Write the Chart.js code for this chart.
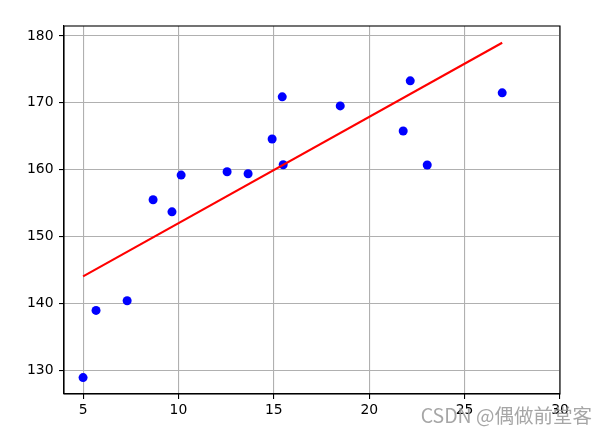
<!DOCTYPE html>
<html>
<head>
<meta charset="utf-8">
<script src="https://cdn.jsdelivr.net/npm/chart.js@4"></script>
<style>
  html, body { margin: 0; padding: 0; background: #fff; }
  #wrap { width: 607px; height: 436px; }
</style>
</head>
<body>
<div id="wrap"><canvas id="myChart" width="607" height="436"></canvas></div>
<script>
// scatter points
const xs = [5.0, 5.68, 7.31, 8.67, 9.66, 10.14, 12.55, 13.65, 14.91, 15.44, 15.49, 18.48, 21.78, 22.15, 23.04, 26.97];
const ys = [128.9, 138.95, 140.4, 155.5, 153.7, 159.2, 159.7, 159.4, 164.6, 170.9, 160.75, 169.55, 165.8, 173.3, 160.7, 171.5];
// fitted line, two ends
const lineX = [5.0, 26.97];
const lineY = [144.05, 179.0];
const xTicks = [5, 10, 15, 20, 25, 30];
const yTicks = [130, 140, 150, 160, 170, 180];

const tickFont = { family: 'DejaVu Sans', size: 13.9 };

const frame = {
  id: 'frame',
  afterDraw: (chart) => {
    const ctx = chart.ctx;
    const a = chart.chartArea;
    ctx.save();
    ctx.strokeStyle = '#000';
    ctx.lineWidth = 1.1;
    ctx.strokeRect(a.left, a.top, a.right - a.left, a.bottom - a.top);
    // watermark
    ctx.font = '19.5px "Noto Sans CJK SC", "DejaVu Sans"';
    ctx.fillStyle = 'rgba(150,150,150,0.85)';
    ctx.textAlign = 'right';
    ctx.textBaseline = 'alphabetic';
    ctx.fillText('CSDN @偶做前堂客', 592, 423);
    ctx.restore();
  },
  beforeDraw: (chart) => {
    const ctx = chart.ctx;
    ctx.save();
    ctx.fillStyle = '#fff';
    ctx.fillRect(0, 0, chart.width, chart.height);
    ctx.restore();
  },
};

new Chart(document.getElementById('myChart').getContext('2d'), {
  type: 'scatter',
  data: {
    datasets: [
      {
        data: xs.map((x, i) => ({ x: x, y: ys[i] })),
        backgroundColor: '#0000ff',
        borderColor: '#0000ff',
        pointRadius: 4.5,
        borderWidth: 0,
        order: 2,
      },
      {
        type: 'line',
        data: lineX.map((x, i) => ({ x: x, y: lineY[i] })),
        borderColor: '#ff0000',
        borderWidth: 2.1,
        pointRadius: 0,
        fill: false,
        order: 1,
      },
    ],
  },
  plugins: [frame],
  options: {
    responsive: false,
    animation: false,
    layout: { padding: { left: 0, top: 26, right: 47, bottom: 0 } },
    plugins: { legend: { display: false }, tooltip: { enabled: false } },
    scales: {
      x: {
        type: 'linear',
        min: 4.0,
        max: 30.0,
        afterBuildTicks: (s) => { s.ticks = xTicks.map((v) => ({ value: v })); },
        afterFit: (s) => { s.height = 42; },
        grid: { color: '#b0b0b0', lineWidth: 1.1, tickColor: '#000', tickLength: 5 },
        border: { color: '#000', width: 1.1 },
        ticks: { color: '#000', font: tickFont, padding: 3, maxRotation: 0 },
      },
      y: {
        type: 'linear',
        min: 126.45,
        max: 181.5,
        afterBuildTicks: (s) => { s.ticks = yTicks.map((v) => ({ value: v })); },
        afterFit: (s) => { s.width = 64; },
        grid: { color: '#b0b0b0', lineWidth: 1.1, tickColor: '#000', tickLength: 5 },
        border: { color: '#000', width: 1.1 },
        ticks: { color: '#000', font: tickFont, padding: 5.5 },
      },
    },
  },
});
</script>
</body>
</html>
